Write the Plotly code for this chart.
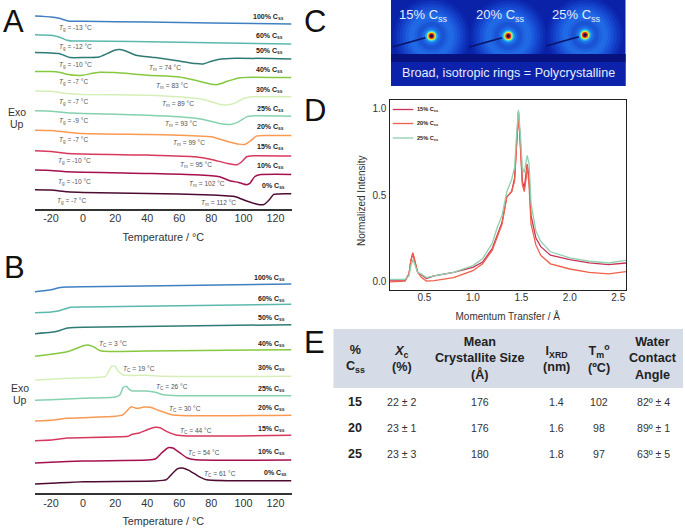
import plotly.graph_objects as go

W, H = 685, 528
SERIES = ["100", "60", "50", "40", "30", "25", "20", "15", "10", "0"]
COLORS = ["#3f80c2", "#5cb8ad", "#2f7a74", "#86c940", "#d6efb8", "#86d1ae", "#f99a52", "#d8385e", "#a60f4f", "#4d0b33"]

# Panel A: DSC heating traces (temperature, read height of trace in arbitrary heat-flow units)
A_T_100 = [-30, -20, -15, -10, -7, 0, 40, 80, 130]
A_Q_100 = [579, 576, 572, 565, 563, 563, 561, 558, 555]
A_T_60 = [-30, -20, -15, -10, -7, 0, 60, 130]
A_Q_60 = [523, 521, 516, 506, 504, 504, 500, 495]
A_T_50 = [-30, -20, -15, -12, -8, 0, 10, 15, 20, 23, 27, 33, 45, 60, 70, 75, 80, 85, 95, 130]
A_Q_50 = [469, 468, 466, 461, 454, 454, 456, 466, 477, 478, 473, 461, 454, 444, 436, 435, 443, 449, 452, 450]
A_T_40 = [-30, -20, -15, -10, -5, 0, 5, 10, 20, 40, 60, 70, 80, 84, 90, 97, 105, 130]
A_Q_40 = [412, 412, 410, 404, 401, 401, 406, 410, 409, 401, 396, 386, 374, 373, 383, 393, 395, 394]
A_T_30 = [-30, -20, -10, 0, 40, 60, 75, 85, 90, 95, 100, 105, 130]
A_Q_30 = [354, 353, 346, 343, 341, 336, 328, 314, 312, 318, 331, 336, 336]
A_T_25 = [-30, -20, -10, 0, 40, 60, 75, 85, 92, 97, 102, 107, 130]
A_Q_25 = [294, 293, 288, 286, 281, 276, 268, 256, 253, 261, 276, 279, 278]
A_T_20 = [-30, -20, -10, 0, 40, 60, 80, 90, 97, 101, 105, 108, 113, 130]
A_Q_20 = [236, 235, 230, 226, 223, 221, 216, 202, 194, 193, 206, 218, 220, 220]
A_T_15 = [-30, -20, -10, 40, 70, 80, 90, 96, 99, 102, 106, 130]
A_Q_15 = [174, 172, 166, 161, 156, 148, 136, 132, 141, 156, 159, 158]
A_T_10 = [-30, -20, -10, 40, 70, 85, 92, 97, 102, 104, 107, 110, 130]
A_Q_10 = [116, 115, 111, 106, 102, 96, 83, 79, 72, 76, 96, 102, 103]
A_T_0 = [-30, -20, -10, 0, 40, 80, 95, 102, 110, 113, 116, 119, 130]
A_Q_0 = [57, 56, 51, 49, 46, 41, 36, 23, 12, 13, 26, 43, 45]

# Panel B: DSC cooling traces
B_T_100 = [-30, -20, -15, -10, 0, 50, 130]
B_Q_100 = [604, 610, 616, 618, 619, 622, 627]
B_T_60 = [-30, -20, -15, -10, -8, 0, 130]
B_Q_60 = [541, 543, 547, 554, 557, 558, 566]
B_T_50 = [-30, -20, -15, -10, -8, 0, 130]
B_Q_50 = [478, 482, 487, 495, 496, 497, 505]
B_T_40 = [-30, -20, -10, -5, 0, 3, 6, 10, 13, 40, 130]
B_Q_40 = [410, 416, 424, 432, 442, 444, 440, 428, 425, 426, 430]
B_T_30 = [-30, -20, -10, 10, 14, 16, 18, 20, 22, 25, 40, 50, 130]
B_Q_30 = [339, 341, 344, 347, 350, 365, 381, 380, 365, 354, 353, 350, 350]
B_T_25 = [-30, -20, 0, 20, 23, 25, 27, 29, 31, 40, 45, 50, 60, 130]
B_Q_25 = [278, 280, 284, 288, 295, 317, 320, 310, 306, 306, 302, 295, 292, 292]
B_T_20 = [-30, -20, -10, 20, 25, 28, 30, 32, 34, 38, 42, 47, 55, 65, 130]
B_Q_20 = [216, 218, 224, 230, 235, 250, 259, 256, 254, 258, 257, 248, 235, 232, 233]
B_T_15 = [-30, -20, -10, 28, 30, 35, 40, 45, 48, 52, 58, 65, 130]
B_Q_15 = [157, 159, 165, 170, 175, 180, 190, 197, 196, 185, 174, 171, 173]
B_T_10 = [-30, -20, 0, 40, 45, 49, 53, 56, 60, 65, 70, 130]
B_Q_10 = [90, 92, 96, 99, 102, 120, 136, 135, 122, 105, 100, 99]
B_T_0 = [-30, -20, 0, 45, 52, 55, 59, 62, 66, 72, 77, 130]
B_Q_0 = [27, 29, 34, 36, 40, 55, 73, 75, 68, 50, 40, 37]

# Panel D: normalized XRD intensity
D_Q = [0.14, 0.30, 0.34, 0.36, 0.38, 0.40, 0.43, 0.47, 0.52, 0.60, 0.80, 1.00, 1.10, 1.20, 1.25, 1.30, 1.35, 1.40, 1.43,
       1.45, 1.47, 1.49, 1.51, 1.53, 1.55, 1.56, 1.58, 1.60, 1.65, 1.70, 1.80, 2.00, 2.20, 2.40, 2.58]
D_15 = [0.005, 0.005, 0.04, 0.12, 0.16, 0.11, 0.05, 0.035, 0.015, 0.03, 0.05, 0.08, 0.11, 0.19, 0.27, 0.34, 0.49, 0.52,
        0.60, 0.80, 0.98, 0.80, 0.58, 0.54, 0.62, 0.68, 0.60, 0.38, 0.25, 0.20, 0.15, 0.125, 0.105, 0.095, 0.105]
D_20 = [-0.005, 0.0, 0.04, 0.12, 0.165, 0.12, 0.05, 0.02, 0.0, 0.002, 0.02, 0.06, 0.10, 0.18, 0.26, 0.33, 0.49, 0.52,
        0.58, 0.78, 0.98, 0.78, 0.56, 0.52, 0.60, 0.68, 0.55, 0.33, 0.21, 0.15, 0.10, 0.07, 0.05, 0.042, 0.055]
D_25 = [0.01, 0.01, 0.03, 0.09, 0.125, 0.09, 0.05, 0.04, 0.02, 0.03, 0.05, 0.09, 0.13, 0.22, 0.31, 0.38, 0.52, 0.59,
        0.66, 0.85, 0.995, 0.85, 0.66, 0.63, 0.70, 0.73, 0.68, 0.45, 0.29, 0.23, 0.17, 0.135, 0.115, 0.105, 0.12]

# Panel E: table
E_HEAD = ["<b>%<br>C<sub>ss</sub></b>", "<b><i>X</i><sub>c</sub><br>(%)</b>", "<b>Mean<br>Crystallite Size<br>(Å)</b>",
          "<b>l<sub>XRD</sub><br>(nm)</b>", "<b>T<sub>m</sub><sup>o</sup><br>(ºC)</b>", "<b>Water<br>Contact<br>Angle</b>"]
E_CSS = ["15", "20", "25"]
E_XC = ["22 ± 2", "23 ± 1", "23 ± 3"]
E_SIZE = ["176", "176", "180"]
E_LXRD = ["1.4", "1.6", "1.8"]
E_TM = ["102", "98", "97"]
E_WCA = ["82º ± 4", "89º ± 1", "63º ± 5"]

A_TG = ["-13", "-12", "-10", "-7", "-7", "-9", "-7", "-10", "-10", "-7"]
A_TM = ["74", "83", "89", "93", "99", "95", "102", "112"]
B_TC = ["3", "19", "26", "30", "44", "54", "61"]
C_TILES = ["15", "20", "25"]
T_TICKS = [-20, 0, 20, 40, 60, 80, 100, 120]
T_LABELS = ["-20", "0", "20", "40", "60", "80", "100", "120"]

def px(x): return x / W
def py(y): return 1 - y / H

FONT = "Liberation Sans"
fig = go.Figure()

def note(x, y, text, size, color="#222", anchor="left", font=FONT, yanchor="middle", **kw):
    fig.add_annotation(xref="paper", yref="paper", x=px(x), y=py(y), text=text, showarrow=False,
                       xanchor=anchor, yanchor=yanchor, align="center" if anchor == "center" else anchor,
                       font=dict(size=size, color=color, family=font), **kw)

g = globals()
for i, s in enumerate(SERIES):
    fig.add_trace(go.Scatter(x=g[f"A_T_{s}"], y=g[f"A_Q_{s}"], mode="lines", xaxis="x", yaxis="y", showlegend=False,
                             line=dict(color=COLORS[i], width=1.5, shape="spline", smoothing=0.5), name=s + "% Css"))
    fig.add_trace(go.Scatter(x=g[f"B_T_{s}"], y=g[f"B_Q_{s}"], mode="lines", xaxis="x2", yaxis="y2", showlegend=False,
                             line=dict(color=COLORS[i], width=1.5, shape="spline", smoothing=0.5), name=s + "% Css"))

D_STYLE = [("15% C<sub>ss</sub>", D_15, "#c9305a"), ("20% C<sub>ss</sub>", D_20, "#f0604a"), ("25% C<sub>ss</sub>", D_25, "#8fd0ae")]
for name, y, c in D_STYLE:
    fig.add_trace(go.Scatter(x=D_Q, y=y, mode="lines", xaxis="x3", yaxis="y3", name=name, showlegend=False,
                             line=dict(color=c, width=1.3)))

axis_font = dict(size=10.8, color="#333", family=FONT)
d_font = dict(size=10, color="#333", family=FONT)
def dsc_x(title_standoff):
    return dict(range=[-30, 130], domain=[px(35), px(291.5)], tickvals=T_TICKS, ticktext=T_LABELS, ticks="",
                showgrid=False, zeroline=False, showline=True, linecolor="#333", linewidth=1.5, tickfont=axis_font,
                title=dict(text="Temperature / °C", font=axis_font, standoff=title_standoff), ticklabelstandoff=-1)
def dsc_y(top, bottom, rng):
    return dict(range=rng, domain=[py(bottom), py(top)], visible=False)

fig.update_layout(
    width=W, height=H, margin=dict(l=0, r=0, t=0, b=0), paper_bgcolor="white", plot_bgcolor="rgba(0,0,0,0)",
    font=dict(family=FONT), showlegend=False,
    xaxis=dict(dsc_x(10), anchor="y"),
    yaxis=dict(dsc_y(10, 208.7, [0, 597]), anchor="x"),
    xaxis2=dict(dsc_x(10), anchor="y2"),
    yaxis2=dict(dsc_y(270, 493, [0, 669]), anchor="x2"),
    xaxis3=dict(range=[0.139, 2.58], domain=[px(389.5), px(626)], anchor="y3", tickvals=[0.5, 1, 1.5, 2, 2.5],
                ticktext=["0.5", "1.0", "1.5", "2.0", "2.5"], ticks="", showgrid=False, zeroline=False, showline=True,
                mirror=True, linecolor="#222", linewidth=1.3, tickfont=d_font, ticklabelstandoff=-2,
                title=dict(text="Momentum Transfer / Å", font=d_font, standoff=10)),
    yaxis3=dict(range=[-0.052, 1.052], domain=[py(290), py(100)], anchor="x3", tickvals=[0, 0.5, 1],
                ticktext=["0.0", "0.5", "1.0"], ticks="", showgrid=False, zeroline=False, showline=True, mirror=True,
                linecolor="#222", linewidth=1.3, tickfont=d_font),
)
note(362, 201, "Normalized Intensity", 10, "#333", "center", textangle=-90)

# Panel D key
for (name, _, c), y in zip(D_STYLE, [109.5, 123.5, 138]):
    fig.add_shape(type="line", xref="paper", yref="paper", x0=px(392.7), x1=px(413.3), y0=py(y), y1=py(y),
                  line=dict(color=c, width=1.3))
    note(415, y, f"<b>{name}</b>", 5.6, "#222")

# Panel letters
for t, x, y in [("A", 1, 21), ("B", 2, 267), ("C", 302, 21.5), ("D", 302, 111), ("E", 302, 342)]:
    note(x, y, t, 31, "#111")

# Exo Up labels
for x, y0 in [(17, 112), (20, 388)]:
    note(x, y0, "Exo", 10.5, "#333", "center")
    note(x, y0 + 12, "Up", 10.5, "#333", "center")

# Css labels
a_lab_y = [50, 108, 154, 210, 269, 326, 381, 441, 499, 558]
a_lab_x = [858, 856, 856, 856, 856, 858, 858, 858, 858, 862]
b_lab_y = [53, 116, 175, 251, 324, 387, 445, 508, 576, 640]
b_lab_x = [862, 862, 862, 860, 862, 862, 862, 862, 862, 868]
for s, x, y in zip(SERIES, a_lab_x, a_lab_y):
    note(x / 3, y / 3, f"<b>{s}% C<sub>ss</sub></b>", 7, "#222", "right")
for s, x, y in zip(SERIES, b_lab_x, b_lab_y):
    note(x / 3, y / 3 + 260, f"<b>{s}% C<sub>ss</sub></b>", 7, "#222", "right")

# Transition labels
tg_pos = [(170, 85), (170, 142), (170, 194), (172, 247), (172, 306), (172, 364), (172, 421), (167, 482), (167, 545), (165, 604)]
tm_pos = [(442, 204), (462, 258), (480, 311), (490, 371), (513, 429), (533, 495), (560, 553), (598, 610)]
tc_pos = [(290, 251), (362, 327), (462, 381), (502, 447), (533, 512), (558, 578), (605, 643)]
for v, (x, y) in zip(A_TG, tg_pos):
    note(x / 3, y / 3, f"<i>T</i><sub>g</sub> = {v} °C", 6.6, "#555")
for v, (x, y) in zip(A_TM, tm_pos):
    note(x / 3, y / 3, f"<i>T</i><sub>m</sub> = {v} °C", 6.6, "#555")
for v, (x, y) in zip(B_TC, tc_pos):
    note(x / 3, y / 3 + 260, f"<i>T</i><sub>C</sub> = {v} °C", 6.6, "#555")

# Panel C (schematic of the scattering images)
def rect(x0, y0, x1, y1, color):
    fig.add_shape(type="rect", xref="paper", yref="paper", x0=px(x0), x1=px(x1), y0=py(y1), y1=py(y0),
                  fillcolor=color, line_width=0, layer="below")
def disc(cx, cy, r, color):
    fig.add_shape(type="circle", xref="paper", yref="paper", x0=px(cx - r), x1=px(cx + r), y0=py(cy + r), y1=py(cy - r),
                  fillcolor=color, line_width=0, layer="below")

rect(391, 0, 625.5, 86, "#0a22a8")
centers = [(431.5, 36), (508.3, 36), (585, 35)]
halo = [(38, "#0d2bb2"), (35, "#1036be"), (32, "#1442ca"), (29, "#184fd4"), (26, "#1c5cde"), (23, "#2068e4"),
        (20, "#216ae6"), (17, "#1e60de"), (14, "#1a54d4"), (11, "#1a58d8"), (9, "#1e6ce6")]
core = [(6.5, "#22a4ee"), (5, "#50e8c8"), (4, "#f5e020"), (3, "#e8301c"), (1.8, "#200a50")]
for cx, cy in centers:
    for r, c in halo:
        disc(cx, cy, r, c)
rect(391, 54, 625.5, 86, "#0c22aa")
rect(391, 54, 625.5, 62, "#08127f")
for cx, cy in centers:
    fig.add_shape(type="line", xref="paper", yref="paper", x0=px(cx - 39), y0=py(cy + 11), x1=px(cx), y1=py(cy),
                  line=dict(color="#0a1468", width=1.8), layer="below")
    for r, c in core:
        disc(cx, cy, r, c)
for t, x in zip(C_TILES, [396.5, 473.5, 550]):
    note(x, 15, f"{t}% C<sub>ss</sub>", 13, "#e4ecff")
note(508.5, 73, "Broad, isotropic rings = Polycrystalline", 12.6, "#e4ecff", "center")

# Panel E
rect(333.5, 329, 683, 388, "#d5dbe7")
col_x = [355, 401.7, 480, 556, 598.5, 653]
for x, t in zip(col_x, E_HEAD):
    note(x, 358.5, t, 12.6, "#222", "center")
for y_i, row in enumerate(zip(E_CSS, E_XC, E_SIZE, E_LXRD, E_TM, E_WCA)):
    y = 401.7 + 26 * y_i
    for j, (x, t) in enumerate(zip(col_x, row)):
        if j == 0:
            note(x, y, f"<b>{t}</b>", 12.5, "#222", "center")
        else:
            note(x, y, t, 10.6, "#333", "center")

fig.write_html("out.html", post_script="document.body.style.margin='0';", config={"displayModeBar": False})
